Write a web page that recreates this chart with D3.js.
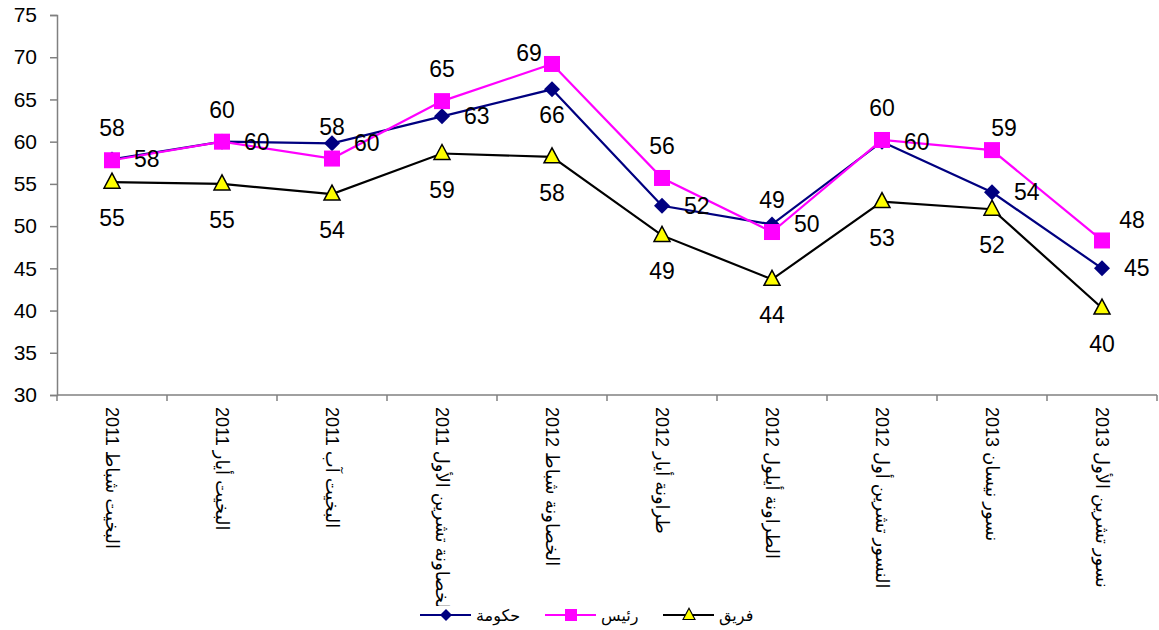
<!DOCTYPE html>
<html>
<head>
<meta charset="utf-8">
<script src="https://cdn.jsdelivr.net/npm/d3@7"></script>
<style>
  body { margin: 0; background: #fff; }
  svg { display: block; font-family: "Liberation Sans", Arial, "DejaVu Sans", sans-serif; }
</style>
</head>
<body>
<svg id="chart" width="1159" height="630"></svg>
<script>
// data
var categories = [
  "البخيت شباط 2011",
  "البخيت أيار 2011",
  "البخيت آب 2011",
  "الخصاونة تشرين الأول 2011",
  "الخصاونة شباط 2012",
  "طراونة أيار 2012",
  "الطراونة أيلول 2012",
  "النسور تشرين أول 2012",
  "نسور نيسان 2013",
  "نسور تشرين الأول 2013"
];
var govValues  = [57.9, 60.0, 59.8, 63.0, 66.2, 52.4, 50.2, 60.0, 54.0, 45.0];
var presValues = [57.8, 60.0, 58.0, 64.8, 69.2, 55.7, 49.3, 60.2, 59.0, 48.3];
var teamValues = [55.2, 55.0, 53.8, 58.6, 58.2, 48.9, 43.7, 52.9, 52.0, 40.3];
var yTicks = [30, 35, 40, 45, 50, 55, 60, 65, 70, 75];
var seriesNames = ["حكومة", "رئيس", "فريق"];

var svg = d3.select("#chart");

var x = d3.scaleBand().domain(categories).range([57, 1157]);
var y = d3.scaleLinear().domain([30, 75]).range([395, 15]);
var cx = function(i) { return x(categories[i]) + x.bandwidth() / 2; };

// label placement per point (dx, dy from marker, anchor)
function placeGov(i) {
  if (i == 4) return {dx: 0, dy: 26, anchor: "middle"};
  return {dx: 22, dy: 0, anchor: "start"};
}
function placePres(i) {
  if (i == 4) return {dx: -23, dy: -11, anchor: "middle"};
  if (i == 8) return {dx: 12, dy: -22, anchor: "middle"};
  if (i == 9) return {dx: 30, dy: -21, anchor: "middle"};
  return {dx: 0, dy: -32, anchor: "middle"};
}
function placeTeam(i) {
  return {dx: 0, dy: 36, anchor: "middle"};
}

var series = [
  {name: seriesNames[0], values: govValues,  color: "#000080", marker: "diamond",  place: placeGov},
  {name: seriesNames[1], values: presValues, color: "#FF00FF", marker: "square",   place: placePres},
  {name: seriesNames[2], values: teamValues, color: "#000000", marker: "triangle", place: placeTeam}
];

// y axis
var yAxis = svg.append("g")
  .attr("transform", "translate(57,0)")
  .call(d3.axisLeft(y).tickValues(yTicks).tickSize(7).tickPadding(13));
yAxis.select(".domain").attr("stroke", "#808080").attr("stroke-width", 1.5);
yAxis.selectAll(".tick line").attr("stroke", "#808080").attr("stroke-width", 1.5);
yAxis.selectAll(".tick text").style("font-size", "21px").attr("fill", "#000");

// x axis
svg.append("line")
  .attr("x1", 57).attr("x2", 1157)
  .attr("y1", y(30)).attr("y2", y(30))
  .attr("stroke", "#808080").attr("stroke-width", 1.5);
var bounds = categories.map(function(c) { return x(c); }).concat([x.range()[1]]);
svg.selectAll(".xtick")
  .data(bounds)
  .enter().append("line")
  .attr("class", "xtick")
  .attr("x1", function(d) { return d; }).attr("x2", function(d) { return d; })
  .attr("y1", y(30)).attr("y2", y(30) + 6)
  .attr("stroke", "#808080").attr("stroke-width", 1.5);

svg.append("clipPath").attr("id", "labclip")
  .append("rect").attr("x", 0).attr("y", 0).attr("width", 1159).attr("height", 606);

svg.append("g").attr("clip-path", "url(#labclip)")
  .selectAll("text")
  .data(categories)
  .enter().append("text")
  .attr("transform", function(d, i) { return "translate(" + cx(i) + "," + 407 + ") rotate(90)"; })
  .attr("dy", "0.35em")
  .attr("text-anchor", "start")
  .style("font-size", "18px")
  .style("font-family", "'Liberation Sans', 'DejaVu Sans', sans-serif")
  .text(function(d) { return d; });

// markers
function drawMarker(g, type, color) {
  if (type == "diamond") {
    g.append("path").attr("d", "M0,-8L8,0L0,8L-8,0Z").attr("fill", color);
  } else if (type == "square") {
    g.append("rect").attr("x", -8).attr("y", -8).attr("width", 16).attr("height", 16).attr("fill", color);
  } else {
    g.append("path").attr("d", "M0,-9L8,6L-8,6Z")
      .attr("fill", "#FFFF00").attr("stroke", "#000").attr("stroke-width", 1.5);
  }
}

var line = d3.line()
  .x(function(d, i) { return cx(i); })
  .y(function(d) { return y(d); });

series.forEach(function(s) {
  svg.append("path")
    .datum(s.values)
    .attr("d", line)
    .attr("fill", "none")
    .attr("stroke", s.color)
    .attr("stroke-width", 2.2);
  s.values.forEach(function(v, i) {
    var g = svg.append("g").attr("transform", "translate(" + cx(i) + "," + y(v) + ")");
    drawMarker(g, s.marker, s.color);
  });
});

// data labels
series.forEach(function(s) {
  s.values.forEach(function(v, i) {
    var p = s.place(i);
    svg.append("text")
      .attr("x", cx(i) + p.dx)
      .attr("y", y(v) + p.dy)
      .attr("dy", "0.35em")
      .attr("text-anchor", p.anchor)
      .style("font-size", "23px")
      .text(d3.format(".0f")(v));
  });
});

// legend
var legendX = [420, 545, 663];
series.forEach(function(s, i) {
  var g = svg.append("g").attr("transform", "translate(" + legendX[i] + ",615)");
  g.append("line").attr("x1", 0).attr("x2", 51).attr("y1", 0).attr("y2", 0)
    .attr("stroke", s.color).attr("stroke-width", 2.2);
  var m = g.append("g").attr("transform", "translate(26,0) scale(0.75)");
  drawMarker(m, s.marker, s.color);
  g.append("text")
    .attr("x", 56).attr("y", 0).attr("dy", "0.35em")
    .style("font-size", "16px")
    .style("font-family", "'DejaVu Sans', sans-serif")
    .text(s.name);
});
</script>
</body>
</html>
